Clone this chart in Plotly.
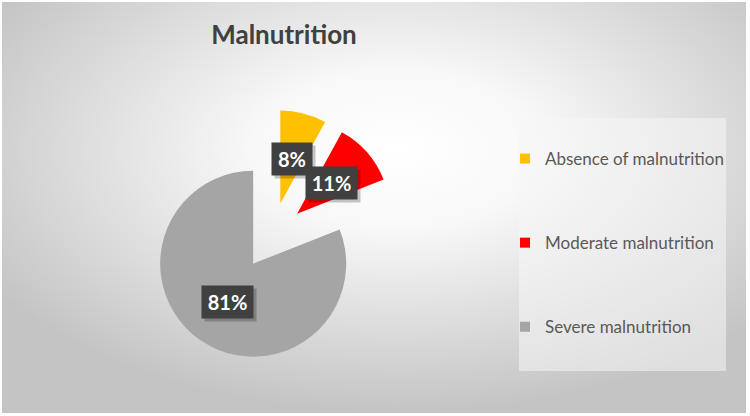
import math
import urllib.parse
import plotly.graph_objects as go

# ---- data ----
categories = ["Absence of malnutrition", "Moderate malnutrition", "Severe malnutrition"]
values = [8, 11, 81]
label_texts = ["8%", "11%", "81%"]
colors = ["#FFC000", "#FF0000", "#A5A5A5"]

W, H = 750, 416
PULL = 0.36
R = 93.0                       # slice radius in px
CX, CY = 272.0, 236.0          # pie centre in px (top-left origin)
half = R * (1 + PULL)

dom_x = [(CX - half) / W, (CX + half) / W]
dom_y = [1 - (CY + half) / H, 1 - (CY - half) / H]

fig = go.Figure()

fig.add_trace(go.Pie(
    labels=categories, values=values,
    marker=dict(colors=colors, line=dict(width=0)),
    pull=[PULL] * len(values),
    sort=False, direction="clockwise", rotation=0,
    textinfo="none", showlegend=False,
    domain=dict(x=dom_x, y=dom_y),
    hoverinfo="label+percent",
))

# legend entries (separate groups so they can be spaced like the reference)
for name, col in zip(categories, colors):
    fig.add_trace(go.Scatter(
        x=[None], y=[None], mode="markers", name=name,
        legendgroup=name,
        marker=dict(symbol="square", size=10, color=col),
    ))

# data labels: dark boxes placed along each slice's mid-angle
total = sum(values)
annotations = []
cum = 0.0
for v, txt in zip(values, label_texts):
    mid = (cum + v / 2) / total * 2 * math.pi
    cum += v
    d = (PULL + 0.5) * R
    px = CX + d * math.sin(mid)
    py = CY - d * math.cos(mid)
    w = 12 + 11 * len(txt)
    common = dict(x=px / W, y=1 - py / H, xref="paper", yref="paper",
                  xanchor="center", yanchor="middle", showarrow=False,
                  width=w, height=26, borderpad=3)
    # soft shadow box (no text)
    annotations.append(dict(common, text="&nbsp;",
                            font=dict(family="Lato", size=20, color="rgba(0,0,0,0)"),
                            bgcolor="rgba(0,0,0,0.22)", xshift=3, yshift=-3))
    annotations.append(dict(common, text="<b>%s</b>" % txt,
                            font=dict(family="Lato", size=20, color="white"),
                            bgcolor="#404040"))

bg_svg = (
    "<svg xmlns='http://www.w3.org/2000/svg' width='750' height='416' preserveAspectRatio='none'>"
    "<defs><radialGradient id='g' cx='0.53' cy='0.36' r='0.64'>"
    "<stop offset='0' stop-color='#ffffff'/>"
    "<stop offset='0.3' stop-color='#f8f8f8'/>"
    "<stop offset='1' stop-color='#c4c4c4'/>"
    "</radialGradient></defs>"
    "<rect width='750' height='416' fill='url(#g)'/></svg>"
)
bg_uri = "data:image/svg+xml;charset=utf-8," + urllib.parse.quote(bg_svg)

fig.update_layout(
    width=W, height=H,
    margin=dict(l=0, r=0, t=0, b=0),
    paper_bgcolor="white", plot_bgcolor="rgba(0,0,0,0)",
    xaxis=dict(visible=False), yaxis=dict(visible=False),
    title=dict(text="<b>Malnutrition</b>", x=284 / W, xanchor="center",
               y=1 - 35 / H, yanchor="middle",
               font=dict(family="Lato", size=26, color="#404040")),
    legend=dict(
        x=505 / W, xanchor="left", y=1 - 141 / H, yanchor="top",
        traceorder="grouped", tracegroupgap=59,
        bgcolor="rgba(0,0,0,0)",
        font=dict(family="Lato", size=17, color="#595959"),
    ),
    images=[dict(source=bg_uri, xref="paper", yref="paper",
                 x=2 / W, y=1 - 2 / H, sizex=744 / W, sizey=411 / H,
                 xanchor="left", yanchor="top", sizing="stretch", layer="below")],
    shapes=[dict(type="rect", xref="paper", yref="paper",
                 x0=519 / W, x1=726 / W, y0=1 - 371 / H, y1=1 - 118 / H,
                 fillcolor="rgba(246,246,246,0.55)", line=dict(width=0), layer="below")],
    annotations=annotations,
)

fig.write_html("out.html", config={"displayModeBar": False},
               post_script="document.body.style.margin='0px';")
